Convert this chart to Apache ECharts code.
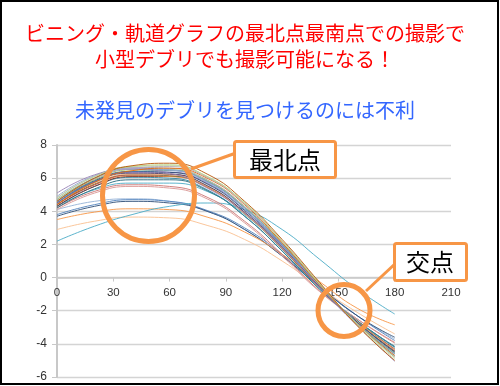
<!DOCTYPE html>
<html>
<head>
<meta charset="utf-8">
<script src="https://cdn.jsdelivr.net/npm/echarts@6/dist/echarts.min.js"></script>
<style>
html,body{margin:0;padding:0;background:#fff;}
#c{width:500px;height:386px;}
</style>
</head>
<body>
<div id="c"></div>
<script>
// x positions (degrees) at which each curve was read
var xs = [0, 20, 40, 60, 80, 100, 120, 140, 160, 180];
var xTicks = [0, 30, 60, 90, 120, 150, 180, 210];
var yTicks = [-6, -4, -2, 0, 2, 4, 6, 8];

// curve values
var c01 = [4.6, 6.0, 6.75, 6.9, 6.25, 4.6, 2.3, -0.3, -2.9, -5.0];
var c02 = [5.1, 6.2, 6.55, 6.3, 5.4, 3.9, 1.8, -0.6, -2.9, -5.05];
var c03 = [4.7, 6.0, 6.7, 6.8, 6.1, 4.5, 2.2, -0.4, -2.8, -4.8];
var c04 = [4.8, 6.1, 6.65, 6.6, 5.9, 4.3, 2.1, -0.4, -2.8, -4.7];
var c05 = [4.5, 5.8, 6.4, 6.45, 5.8, 4.2, 2.0, -0.5, -2.8, -4.6];
var c06 = [4.4, 5.6, 6.2, 6.2, 5.5, 3.9, 1.8, -0.6, -2.7, -4.4];
var c07 = [4.6, 5.9, 6.5, 6.5, 5.85, 4.25, 2.05, -0.45, -2.75, -4.55];
var c08 = [4.5, 5.75, 6.35, 6.35, 5.7, 4.1, 1.95, -0.5, -2.7, -4.5];
var c09 = [4.3, 5.5, 6.05, 6.0, 5.3, 3.7, 1.6, -0.7, -2.6, -4.2];
var c10 = [4.4, 5.6, 6.15, 6.1, 5.45, 3.85, 1.75, -0.6, -2.65, -4.35];
var c11 = [4.6, 5.85, 6.4, 6.35, 5.65, 4.05, 1.9, -0.5, -2.7, -4.5];
var c12 = [4.3, 5.5, 6.1, 6.1, 5.45, 3.9, 1.75, -0.6, -2.65, -4.3];
var c13 = [4.4, 5.65, 6.2, 6.15, 5.5, 3.9, 1.8, -0.6, -2.65, -4.4];
var c14 = [4.5, 5.8, 6.3, 6.25, 5.55, 3.95, 1.85, -0.55, -2.7, -4.45];
var c15 = [4.2, 5.35, 5.9, 5.9, 5.25, 3.7, 1.6, -0.7, -2.6, -4.15];
var c16 = [4.7, 6.0, 6.55, 6.5, 5.8, 4.2, 2.0, -0.45, -2.75, -4.6];
var c17 = [4.2, 5.2, 5.6, 5.5, 4.85, 3.4, 1.4, -0.8, -2.5, -3.95];
var c18 = [4.1, 5.1, 5.5, 5.4, 4.75, 3.3, 1.3, -0.85, -2.5, -3.9];
var c19 = [4.3, 5.3, 5.7, 5.7, 5.2, 3.8, 1.7, -0.6, -2.6, -4.2];
var c20 = [4.9, 6.15, 6.6, 6.5, 5.75, 4.1, 1.9, -0.5, -2.8, -4.75];
var c21 = [4.8, 6.1, 6.7, 6.75, 6.1, 4.5, 2.2, -0.35, -2.85, -4.9];
var c22 = [4.6, 5.95, 6.6, 6.7, 6.05, 4.45, 2.2, -0.35, -2.8, -4.8];
var c23 = [4.5, 5.7, 6.25, 6.2, 5.5, 3.9, 1.8, -0.55, -2.65, -4.4];
var c24 = [4.4, 5.75, 6.45, 6.6, 6.0, 4.4, 2.1, -0.45, -2.8, -4.7];
var c25 = [4.1, 4.6, 4.75, 4.6, 4.0, 2.9, 1.3, -0.6, -2.3, -3.7];
var c26 = [3.8, 4.4, 4.7, 4.6, 4.05, 3.0, 1.4, -0.5, -2.3, -3.8];
var c27 = [3.7, 4.3, 4.6, 4.5, 4.0, 2.9, 1.3, -0.55, -2.3, -3.6];
var c28 = [3.5, 3.95, 4.15, 4.1, 3.65, 2.75, 1.4, -0.25, -1.85, -2.85];
var c29 = [2.9, 3.4, 3.65, 3.6, 3.15, 2.3, 1.0, -0.6, -2.1, -3.4];
var c30 = [2.2, 3.1, 3.8, 4.3, 4.5, 4.1, 2.9, 1.1, -0.7, -2.2];

var curves = [c25, c26, c27, c28, c29, c30, c17, c18, c19, c15, c09, c12, c10, c13, c06, c23, c14, c08, c11, c05, c07, c16, c04, c20, c02, c24, c22, c03, c21, c01];
var colors = ['#95B3D7', '#4F81BD', '#2C4D75', '#F79646', '#FAC090', '#4BACC6', '#CD7371', '#D99694', '#4BACC6', '#276A7C', '#31859C', '#772C2A', '#F79646', '#5F7530', '#C0504D', '#FAC090', '#4D3B62', '#8064A2', '#2C4D75', '#4F81BD', '#9BBB59', '#729ACA', '#A5A5A5', '#93A9CF', '#9983B5', '#E46C0A', '#B3A2C7', '#AFC97A', '#C3D69B', '#B65708'];

var series = curves.map(function (arr, i) {
  return {
    type: 'line',
    smooth: true,
    symbol: 'none',
    data: arr.map(function (v, j) { return [xs[j], v]; }),
    lineStyle: { width: 1, color: colors[i], opacity: 0.9 },
    z: 2
  };
});

var orange = '#F79646';
var gridTop = 145, gridBottom = 9, chartH = 386;
var plotH = chartH - gridTop - gridBottom;
var yMin = yTicks[0], yMax = yTicks[yTicks.length - 1];
// move the x axis up so that it sits on y = 0
var xAxisOffset = -plotH * (0 - yMin) / (yMax - yMin);

var chart = echarts.init(document.getElementById('c'));
chart.setOption({
  animation: false,
  backgroundColor: '#fff',
  grid: { left: 57, right: 49, top: gridTop, bottom: gridBottom },
  xAxis: {
    type: 'value', min: xTicks[0], max: xTicks[xTicks.length - 1], interval: 30,
    position: 'bottom', offset: xAxisOffset,
    axisLine: { onZero: false, lineStyle: { color: '#C8C8C8', width: 1.5 } },
    axisTick: { show: true, length: 4, lineStyle: { color: '#C8C8C8' } },
    axisLabel: { color: '#333', fontSize: 11.5, margin: 9, fontFamily: 'Liberation Sans' },
    splitLine: { show: false }
  },
  yAxis: {
    type: 'value', min: yMin, max: yMax, interval: 2,
    axisLine: { show: true, onZero: false, lineStyle: { color: '#C8C8C8', width: 2 } },
    axisTick: { show: true, length: 5, lineStyle: { color: '#C8C8C8' } },
    axisLabel: { color: '#333', fontSize: 12, margin: 10, fontFamily: 'Liberation Sans' },
    splitLine: { show: true, lineStyle: { color: '#D4D4D4', width: 1.3 } }
  },
  series: series,
  graphic: [
    { type: 'text', z: 100, style: { text: 'ビニング・軌道グラフの最北点最南点での撮影で', x: 245, y: 33, textAlign: 'center', textVerticalAlign: 'middle', fill: '#FF0000', font: '20px "Noto Sans CJK JP"' } },
    { type: 'text', z: 100, style: { text: '小型デブリでも撮影可能になる！', x: 245, y: 59, textAlign: 'center', textVerticalAlign: 'middle', fill: '#FF0000', font: '20px "Noto Sans CJK JP"' } },
    { type: 'text', z: 100, style: { text: '未発見のデブリを見つけるのには不利', x: 245, y: 110, textAlign: 'center', textVerticalAlign: 'middle', fill: '#3366FF', font: '20px "Noto Sans CJK JP"' } },
    { type: 'line', z: 100, shape: { x1: 236, y1: 153, x2: 191, y2: 169 }, style: { stroke: orange, lineWidth: 3 } },
    { type: 'circle', z: 101, shape: { cx: 148.5, cy: 195.5, r: 46 }, style: { fill: 'none', stroke: orange, lineWidth: 5 } },
    { type: 'rect', z: 102, shape: { x: 234.5, y: 141.5, width: 101, height: 36, r: 2 }, style: { fill: '#fff', stroke: orange, lineWidth: 3 } },
    { type: 'text', z: 103, style: { text: '最北点', x: 285, y: 160, textAlign: 'center', textVerticalAlign: 'middle', fill: '#000', font: '24px "Noto Sans CJK JP"' } },
    { type: 'line', z: 100, shape: { x1: 397, y1: 262, x2: 366, y2: 291 }, style: { stroke: orange, lineWidth: 3 } },
    { type: 'circle', z: 101, shape: { cx: 344, cy: 310.5, r: 26 }, style: { fill: 'none', stroke: orange, lineWidth: 5 } },
    { type: 'rect', z: 102, shape: { x: 394.5, y: 243.5, width: 72, height: 37, r: 2 }, style: { fill: '#fff', stroke: orange, lineWidth: 3 } },
    { type: 'text', z: 103, style: { text: '交点', x: 430, y: 262, textAlign: 'center', textVerticalAlign: 'middle', fill: '#000', font: '24px "Noto Sans CJK JP"' } },
    { type: 'rect', z: 110, shape: { x: 1, y: 1, width: 497, height: 383 }, style: { fill: 'none', stroke: '#000', lineWidth: 2 } }
  ]
});
</script>
</body>
</html>
